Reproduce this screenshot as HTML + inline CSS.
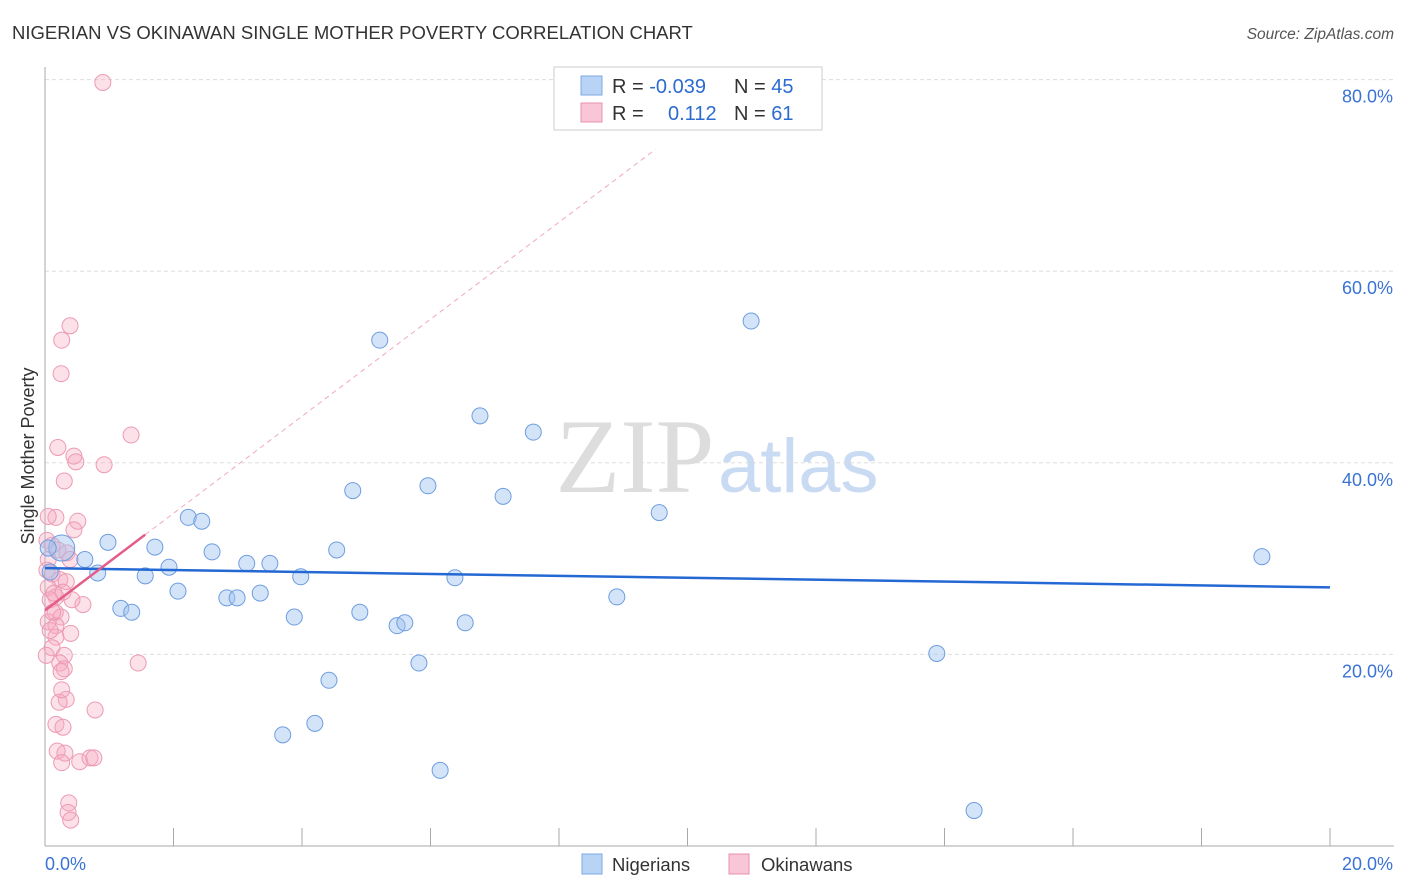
<!DOCTYPE html>
<html><head><meta charset="utf-8"><style>
body{margin:0;background:#fff;font-family:"Liberation Sans",sans-serif}
svg{display:block}
</style></head><body>
<svg width="1406" height="892">
<text x="12" y="39" font-size="18.5" fill="#333">NIGERIAN VS OKINAWAN SINGLE MOTHER POVERTY CORRELATION CHART</text>
<text x="1394" y="39" font-size="15.5" fill="#555" font-style="italic" text-anchor="end">Source: ZipAtlas.com</text>
<text x="635" y="492" font-size="106" fill="#ddd" font-family="Liberation Serif,serif" text-anchor="middle">ZIP</text>
<text x="718" y="492" font-size="76" fill="#c9daf3">atlas</text>
<g id="grid"></g>
<g id="axes"></g>
<g id="marks"></g>
<text transform="translate(34,456) rotate(-90)" font-size="18" fill="#333" text-anchor="middle">Single Mother Poverty</text>
<g>
<rect x="554" y="67" width="268" height="63" fill="#fff" stroke="#ccc"/>
<rect x="581" y="76" width="21" height="19" fill="#b8d3f5" stroke="#7fa8e0"/>
<rect x="581" y="103" width="21" height="19" fill="#f8c6d6" stroke="#e992ad"/>
<text x="612" y="93" font-size="20" fill="#333">R = <tspan fill="#2c6bd1">-0.039</tspan></text>
<text x="734" y="93" font-size="20" fill="#333">N = <tspan fill="#2c6bd1">45</tspan></text>
<text x="612" y="120" font-size="20" fill="#333">R = </text>
<text x="668" y="120" font-size="20" fill="#2c6bd1">0.112</text>
<text x="734" y="120" font-size="20" fill="#333">N = <tspan fill="#2c6bd1">61</tspan></text>
</g>
<g>
<rect x="582" y="854" width="20" height="20" fill="#b8d3f5" stroke="#7fa8e0"/>
<text x="612" y="871" font-size="18.5" fill="#333">Nigerians</text>
<rect x="729" y="854" width="20" height="20" fill="#f8c6d6" stroke="#e992ad"/>
<text x="761" y="871" font-size="18.5" fill="#333">Okinawans</text>
</g>
</svg>
<script>
const yTicks=[20,40,60,80];
const xTickLabels=["0.0%","20.0%"];
const blueX=[0.26,0.62,0.82,0.98,1.18,1.35,1.56,1.71,1.93,2.07,2.23,2.44,2.60,2.83,2.99,3.14,3.35,3.50,3.88,3.98,4.20,3.70,4.42,4.54,4.79,4.90,5.21,5.48,5.60,5.82,5.96,6.15,6.38,6.54,6.77,7.13,7.60,8.90,9.56,10.99,13.88,14.46,18.94,0.05,0.08];
const blueY=[31.1,29.9,28.5,31.7,24.8,24.4,28.2,31.2,29.1,26.6,34.3,33.9,30.7,25.9,25.9,29.5,26.4,29.5,23.9,28.1,12.8,11.6,17.3,30.9,37.1,24.4,52.8,23.0,23.3,19.1,37.6,7.9,28.0,23.3,44.9,36.5,43.2,26.0,34.8,54.8,20.1,3.7,30.2,31.1,28.6];
const pinkX=[0.90,0.39,0.26,0.25,1.34,0.20,0.45,0.48,0.92,0.30,0.17,0.05,0.51,0.45,0.11,0.20,0.34,0.03,0.11,0.23,0.33,0.05,0.17,0.59,0.16,0.25,0.05,0.17,0.40,0.17,0.11,0.30,0.23,0.30,0.25,1.45,0.33,0.22,0.78,0.17,0.28,0.19,0.31,0.26,0.54,0.70,0.76,0.37,0.36,0.40,0.08,0.05,0.14,0.08,0.28,0.03,0.12,0.39,0.02,0.26,0.42];
const pinkY=[79.7,54.3,52.8,49.3,42.9,41.6,40.7,40.1,39.8,38.1,34.3,34.4,33.9,33.0,31.4,30.9,30.6,28.8,28.4,27.8,27.6,27.0,26.0,25.2,24.4,23.9,23.4,23.0,22.2,21.8,20.7,19.9,19.1,18.5,18.2,19.1,15.3,15.0,14.2,12.7,12.4,9.9,9.7,8.7,8.8,9.2,9.2,4.5,3.5,2.7,25.7,29.9,26.4,22.5,26.5,31.9,24.4,29.9,19.9,16.3,25.7];
const blueTrend=[29.0,27.0];
const pinkTrend=[24.6,32.5];
const NS="http://www.w3.org/2000/svg";
const X=v=>45+v*64.25, Y=v=>846-v*9.58;
function mk(t,a,p){const e=document.createElementNS(NS,t);for(const k in a)e.setAttribute(k,a[k]);p.appendChild(e);return e;}
const grid=document.getElementById('grid'),axes=document.getElementById('axes'),marks=document.getElementById('marks');
yTicks.forEach(t=>{
 const l=mk('line',{x1:45,x2:1394,y1:Y(t),y2:Y(t),stroke:'#ddd','stroke-dasharray':'4,3'},grid);
 
 
 const tx=mk('text',{x:1393,y:Y(t)+23,'font-size':18,fill:'#3a73d4','text-anchor':'end'},grid);
 tx.textContent=t.toFixed(1)+'%';
 
 
});
const ax=mk('line',{x1:45,x2:45,y1:67,y2:846,stroke:'#aaa'},axes);


const bx=mk('line',{x1:45,x2:1394,y1:846,y2:846,stroke:'#aaa'},axes);


for(let i=1;i<=10;i++){const t=mk('line',{x1:X(i*2),x2:X(i*2),y1:828,y2:846,stroke:'#aaa'},axes);
 
 }
xTickLabels.forEach((s,i)=>{const t=mk('text',{x:i?1393:45,y:870,'font-size':18,fill:'#3a73d4','text-anchor':i?'end':'start'},axes);t.textContent=s;
 
 });
const pslope=(pinkTrend[1]-pinkTrend[0])/1.56;
const pd=mk('line',{x1:X(1.56),y1:Y(pinkTrend[1]),x2:X(9.5),y2:Y(pinkTrend[0]+pslope*9.5),stroke:'#f0a8bf','stroke-dasharray':'5,4'},marks);


pinkX.forEach((x,i)=>{const c=mk('circle',{cx:X(x),cy:Y(pinkY[i]),r:8,fill:'rgba(246,168,193,0.35)',stroke:'#ec9ab4','stroke-width':1},marks);
 
 });
blueX.forEach((x,i)=>{const c=mk('circle',{cx:X(x),cy:Y(blueY[i]),r:i==0?13:8,fill:'rgba(160,196,240,0.45)',stroke:'#6d9de0','stroke-width':1},marks);
 
 });
const bt=mk('line',{x1:X(0),y1:Y(blueTrend[0]),x2:X(20),y2:Y(blueTrend[1]),stroke:'#2468d4','stroke-width':2.5},marks);


const pt=mk('line',{x1:X(0),y1:Y(pinkTrend[0]),x2:X(1.56),y2:Y(pinkTrend[1]),stroke:'#e45d8a','stroke-width':2.5},marks);


</script>
</body></html>
